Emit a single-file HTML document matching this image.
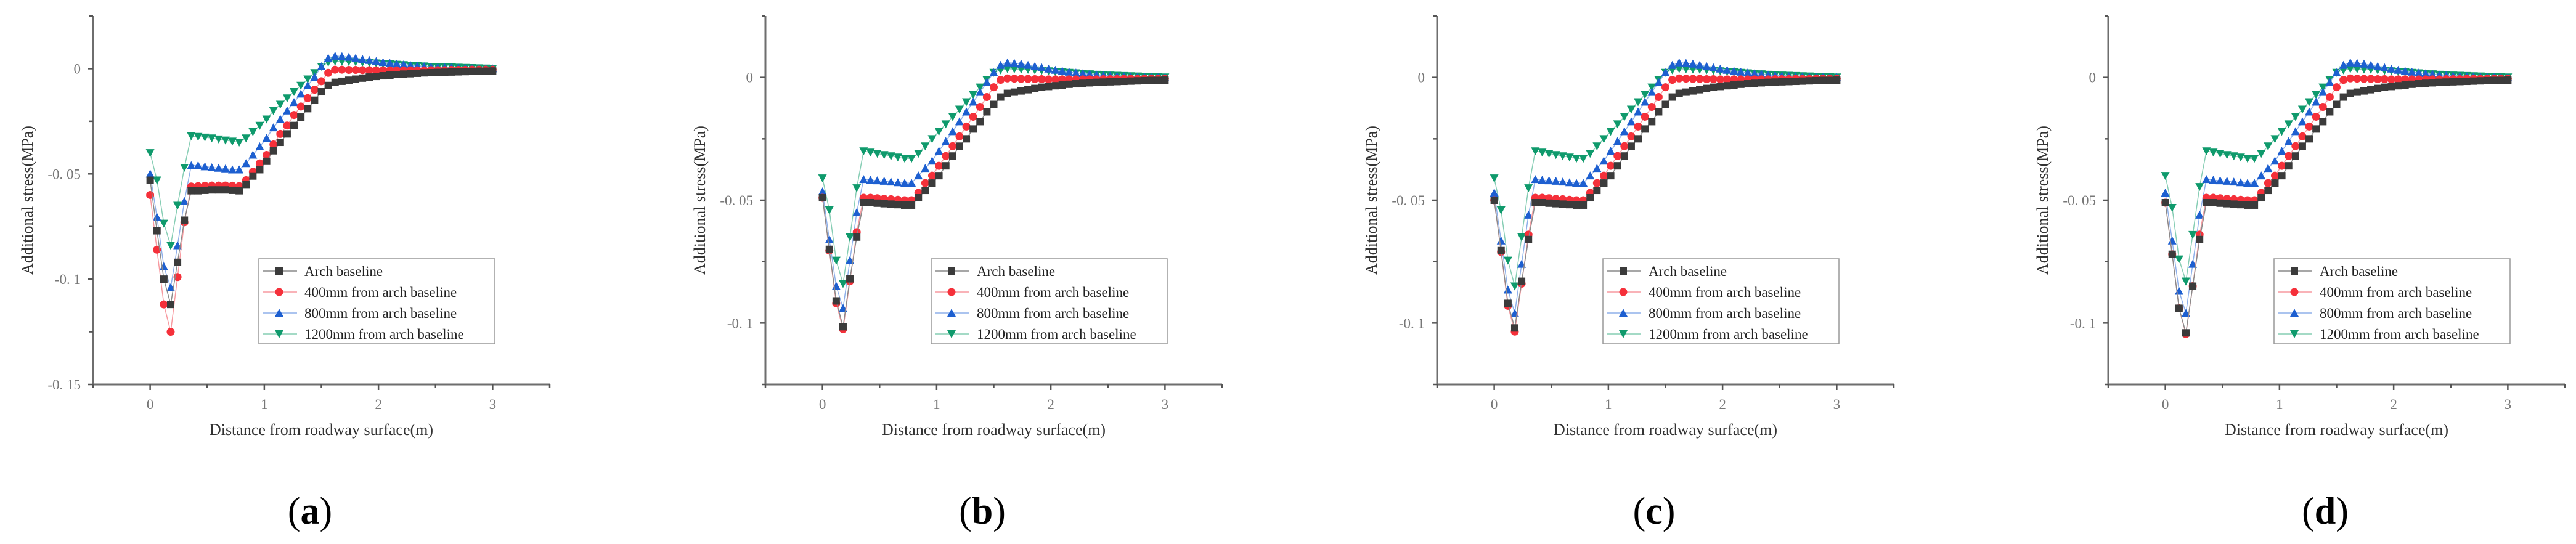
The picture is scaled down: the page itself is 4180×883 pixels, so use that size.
<!DOCTYPE html>
<html><head><meta charset="utf-8">
<style>
html,body{margin:0;padding:0;background:#fff;}
svg{display:block;}
text{font-family:"Liberation Serif","DejaVu Serif",serif;}
</style></head>
<body>
<svg id="fig" width="4180" height="883" viewBox="0 0 4180 883" xmlns="http://www.w3.org/2000/svg"></svg>
<script>
// ---- data ----
const xValues = [0,0.06,0.12,0.18,0.24,0.30,0.36,0.42,0.48,0.54,0.60,0.66,0.72,0.78,0.84,0.90,0.96,1.02,1.08,1.14,1.20,1.26,1.32,1.38,1.44,1.50,1.56,1.62,1.68,1.74,1.80,1.86,1.92,1.98,2.04,2.10,2.16,2.22,2.28,2.34,2.40,2.46,2.52,2.58,2.64,2.70,2.76,2.82,2.88,2.94,3.00];
const seriesNames = ["Arch baseline","400mm from arch baseline","800mm from arch baseline","1200mm from arch baseline"];
const panelLabels = ["a","b","c","d"];
const xTickLabels = ["0","1","2","3"];

const headA_black = [-0.053,-0.077,-0.100,-0.112,-0.092,-0.072,-0.058,-0.058,-0.0578,-0.0576,-0.0576,-0.0576,-0.0578,-0.058];
const headA_red   = [-0.060,-0.086,-0.112,-0.125,-0.099,-0.073,-0.056,-0.0558,-0.0556,-0.0555,-0.0555,-0.0555,-0.0556,-0.0558];
const headA_blue  = [-0.050,-0.0705,-0.094,-0.104,-0.084,-0.063,-0.046,-0.046,-0.0465,-0.047,-0.0472,-0.0475,-0.048,-0.048];
const headA_green = [-0.040,-0.053,-0.0735,-0.084,-0.065,-0.047,-0.032,-0.0323,-0.0326,-0.033,-0.0335,-0.034,-0.0345,-0.035];

const headB_black = [-0.049,-0.070,-0.091,-0.1015,-0.082,-0.065,-0.051,-0.051,-0.0512,-0.0514,-0.0516,-0.0518,-0.052,-0.052];
const headB_red   = [-0.049,-0.0705,-0.092,-0.1025,-0.083,-0.063,-0.049,-0.049,-0.0492,-0.0494,-0.0496,-0.0498,-0.050,-0.050];
const headB_blue  = [-0.0465,-0.066,-0.085,-0.094,-0.0745,-0.055,-0.0415,-0.0418,-0.042,-0.0422,-0.0425,-0.0428,-0.043,-0.043];
const headB_green = [-0.041,-0.054,-0.0745,-0.084,-0.065,-0.045,-0.030,-0.0305,-0.031,-0.0315,-0.032,-0.0325,-0.033,-0.033];

const headC_black = [-0.050,-0.0705,-0.092,-0.102,-0.083,-0.066,-0.051,-0.051,-0.0512,-0.0514,-0.0516,-0.0518,-0.052,-0.052];
const headC_red   = [-0.050,-0.071,-0.093,-0.1035,-0.084,-0.064,-0.049,-0.049,-0.0492,-0.0494,-0.0496,-0.0498,-0.050,-0.050];
const headC_blue  = [-0.047,-0.0665,-0.0865,-0.096,-0.076,-0.056,-0.0415,-0.0418,-0.042,-0.0422,-0.0425,-0.0428,-0.043,-0.043];
const headC_green = [-0.041,-0.054,-0.0745,-0.085,-0.065,-0.045,-0.030,-0.0305,-0.031,-0.0315,-0.032,-0.0325,-0.033,-0.033];

const headD_black = [-0.051,-0.072,-0.094,-0.104,-0.085,-0.066,-0.051,-0.051,-0.0512,-0.0514,-0.0516,-0.0518,-0.052,-0.052];
const headD_red   = [-0.051,-0.072,-0.094,-0.1045,-0.085,-0.064,-0.049,-0.049,-0.0492,-0.0494,-0.0496,-0.0498,-0.050,-0.050];
const headD_blue  = [-0.047,-0.0665,-0.087,-0.096,-0.076,-0.056,-0.0415,-0.0418,-0.042,-0.0422,-0.0425,-0.0428,-0.043,-0.043];
const headD_green = [-0.040,-0.053,-0.074,-0.083,-0.064,-0.0445,-0.030,-0.0305,-0.031,-0.0315,-0.032,-0.0325,-0.033,-0.033];

const riseA_black = [-0.055,-0.051,-0.048,-0.044,-0.039,-0.035,-0.031,-0.027,-0.023,-0.019,-0.015,-0.011,-0.008,-0.0065];
const riseA_red   = [-0.053,-0.049,-0.045,-0.041,-0.036,-0.031,-0.027,-0.022,-0.018,-0.014,-0.010,-0.006,-0.002,-0.0005];
const riseA_blue  = [-0.045,-0.041,-0.037,-0.033,-0.028,-0.024,-0.020,-0.016,-0.012,-0.008,-0.004,0.001,0.005,0.006];
const riseA_green = [-0.033,-0.030,-0.027,-0.024,-0.020,-0.017,-0.014,-0.011,-0.008,-0.005,-0.002,0.001,0.003,0.0035];

const riseB_black = [-0.049,-0.046,-0.043,-0.040,-0.036,-0.032,-0.028,-0.025,-0.021,-0.018,-0.014,-0.011,-0.008,-0.0065];
const riseB_red   = [-0.047,-0.043,-0.040,-0.036,-0.032,-0.028,-0.024,-0.020,-0.016,-0.012,-0.008,-0.004,-0.001,-0.0004];
const riseB_blue  = [-0.040,-0.037,-0.034,-0.030,-0.026,-0.022,-0.018,-0.014,-0.010,-0.006,-0.002,0.002,0.005,0.006];
const riseB_green = [-0.031,-0.028,-0.025,-0.022,-0.019,-0.016,-0.013,-0.010,-0.007,-0.004,-0.001,0.002,0.003,0.0035];

const tail_black = [-0.006,-0.0055,-0.005,-0.0045,-0.004,-0.0037,-0.0034,-0.0031,-0.0028,-0.0026,-0.0024,-0.0022,-0.002,-0.0019,-0.0018,-0.0017,-0.0016,-0.0015,-0.0014,-0.0013,-0.0012,-0.0012,-0.0011];
const tail_red   = [-0.0005,-0.0006,-0.0006,-0.0007,-0.0007,-0.0008,-0.0008,-0.0008,-0.0008,-0.0008,-0.0008,-0.0008,-0.0008,-0.0007,-0.0007,-0.0007,-0.0006,-0.0006,-0.0006,-0.0005,-0.0005,-0.0005,-0.0005];
const tail_blue  = [0.0058,0.0055,0.005,0.0045,0.004,0.0035,0.003,0.0026,0.0022,0.0019,0.0016,0.0013,0.001,0.0008,0.0006,0.0005,0.0004,0.0003,0.0002,0.0001,0,0,0];
const tail_green = [0.0034,0.0033,0.0032,0.003,0.0028,0.0026,0.0024,0.0022,0.002,0.0018,0.0016,0.0014,0.0012,0.001,0.0009,0.0008,0.0007,0.0006,0.0005,0.0004,0.0003,0.0002,0.0001];

const panelA = [headA_black.concat(riseA_black,tail_black), headA_red.concat(riseA_red,tail_red), headA_blue.concat(riseA_blue,tail_blue), headA_green.concat(riseA_green,tail_green)];
const panelB = [headB_black.concat(riseB_black,tail_black), headB_red.concat(riseB_red,tail_red), headB_blue.concat(riseB_blue,tail_blue), headB_green.concat(riseB_green,tail_green)];
const panelC = [headC_black.concat(riseB_black,tail_black), headC_red.concat(riseB_red,tail_red), headC_blue.concat(riseB_blue,tail_blue), headC_green.concat(riseB_green,tail_green)];
const panelD = [headD_black.concat(riseB_black,tail_black), headD_red.concat(riseB_red,tail_red), headD_blue.concat(riseB_blue,tail_blue), headD_green.concat(riseB_green,tail_green)];

const yTicksA = [0,-0.05,-0.1,-0.15];
const yTickLabelsA = ["0","-0. 05","-0. 1","-0. 15"];
const yTicksB = [0,-0.05,-0.1];
const yTickLabelsB = ["0","-0. 05","-0. 1"];

// ---- drawing ----
const NS = "http://www.w3.org/2000/svg";
const svg = document.getElementById("fig");
const colors = ["#3b3b3b","#f5303a","#1d5fd0","#0f9a6c"];
const lineColors = ["#8a8a8a","#f79aa0","#8fb0ea","#86cdb4"];

function mk(tag, attrs, parent){
  const e = document.createElementNS(NS, tag);
  for (const k in attrs) e.setAttribute(k, attrs[k]);
  (parent||svg).appendChild(e);
  return e;
}

function marker(g, kind, cx, cy, s){
  let e;
  const c = colors[kind];
  if (kind===0) e = mk("rect",{x:cx-s/2,y:cy-s/2,width:s,height:s,fill:c},g);
  else if (kind===1) e = mk("circle",{cx:cx,cy:cy,r:s/2+0.5,fill:c},g);
  else if (kind===2) e = mk("polygon",{points:`${cx},${cy-s/2-1} ${cx-s/2-1},${cy+s/2} ${cx+s/2+1},${cy+s/2}`,fill:c},g);
  else e = mk("polygon",{points:`${cx},${cy+s/2+1} ${cx-s/2-1},${cy-s/2} ${cx+s/2+1},${cy-s/2}`,fill:c},g);
  return e;
}

function drawPanel(idx, axisX, data, yMin, yMax, yTicks, yTickLabels){
  const top = 26, bottom = 624, right = axisX + 741;
  const xMin = -0.5, xMax = 3.5;
  const sx = v => axisX + (v - xMin) / (xMax - xMin) * (right - axisX);
  const sy = v => bottom - (v - yMin) / (yMax - yMin) * (bottom - top);
  const g = mk("g",{});
  
  

  for (let s = 3; s >= 0; s--) {
    const sg = mk("g",{},g);
    
    
    const pts = xValues.map((x,i)=>sx(x).toFixed(1)+","+sy(data[s][i]).toFixed(1)).join(" ");
    mk("polyline",{points:pts,fill:"none",stroke:lineColors[s],"stroke-width":1.5},sg);
    xValues.forEach((x,i)=>{
      const m = marker(sg, s, sx(x), sy(data[s][i]), 12);
      
      
    });
  }

  const ax = mk("g",{},g);
  
  
  mk("line",{x1:axisX,y1:top,x2:axisX,y2:bottom+1.5,stroke:"#6e6e6e","stroke-width":3},ax);
  mk("line",{x1:axisX-1.5,y1:bottom,x2:right,y2:bottom,stroke:"#6e6e6e","stroke-width":3},ax);
  for (let v = yMin; v <= yMax + 1e-9; v += 0.025) {
    const y = sy(v);
    const major = Math.abs(Math.round(v/0.05)*0.05 - v) < 1e-6;
    mk("line",{x1:axisX-(major?9:6),y1:y,x2:axisX,y2:y,stroke:"#555","stroke-width":2.5},ax);
  }
  yTicks.forEach((v,i)=>{
    const t = mk("text",{x:axisX-20,y:sy(v)+8,"text-anchor":"end","font-size":23,fill:"#777"},ax);
    t.textContent = yTickLabels[i];
    
    
  });
  for (let v = -0.5; v <= 3.5 + 1e-9; v += 0.5) {
    const x = sx(v);
    const major = Math.abs(v - Math.round(v)) < 1e-6;
    mk("line",{x1:x,y1:bottom,x2:x,y2:bottom+(major?9:6),stroke:"#555","stroke-width":2.5},ax);
  }
  xTickLabels.forEach((l,i)=>{
    const t = mk("text",{x:sx(i),y:664,"text-anchor":"middle","font-size":23,fill:"#777"},ax);
    t.textContent = l;
    
    
  });
  const xt = mk("text",{x:(axisX+right)/2,y:706,"text-anchor":"middle","font-size":26,fill:"#333"},g);
  xt.textContent = "Distance from roadway surface(m)";
  
  
  const yx = axisX - 107;
  const yt = mk("text",{x:yx,y:325,"text-anchor":"middle","font-size":26,fill:"#333",transform:`rotate(-90 ${yx} 325) translate(0 9)`},g);
  yt.textContent = "Additional stress(MPa)";
  
  

  const lg = mk("g",{},g);
  
  
  const lx = axisX + 269, ly = 420;
  mk("rect",{x:lx,y:ly,width:383,height:138,fill:"#fff",stroke:"#999","stroke-width":1.5},lg);
  seriesNames.forEach((n,s)=>{
    const ey = ly + 20 + s*34;
    const eg = mk("g",{},lg);
    
    
    mk("line",{x1:lx+6,y1:ey,x2:lx+62,y2:ey,stroke:lineColors[s],"stroke-width":1.5},eg);
    marker(eg, s, lx+33, ey, 12);
    const t = mk("text",{x:lx+74,y:ey+8,"font-size":23,fill:"#222"},eg);
    t.textContent = n;
  });

  const cap = mk("text",{x:axisX+352,y:850,"text-anchor":"middle","font-size":62,fill:"#000"},g);
  
  
  const p1 = mk("tspan",{},cap); p1.textContent = "(";
  const p2 = mk("tspan",{"font-weight":"bold"},cap); p2.textContent = panelLabels[idx];
  const p3 = mk("tspan",{},cap); p3.textContent = ")";
}

drawPanel(0, 151, panelA, -0.15, 0.025, yTicksA, yTickLabelsA);
drawPanel(1, 1242, panelB, -0.125, 0.025, yTicksB, yTickLabelsB);
drawPanel(2, 2332, panelC, -0.125, 0.025, yTicksB, yTickLabelsB);
drawPanel(3, 3421, panelD, -0.125, 0.025, yTicksB, yTickLabelsB);
</script>
</body></html>
